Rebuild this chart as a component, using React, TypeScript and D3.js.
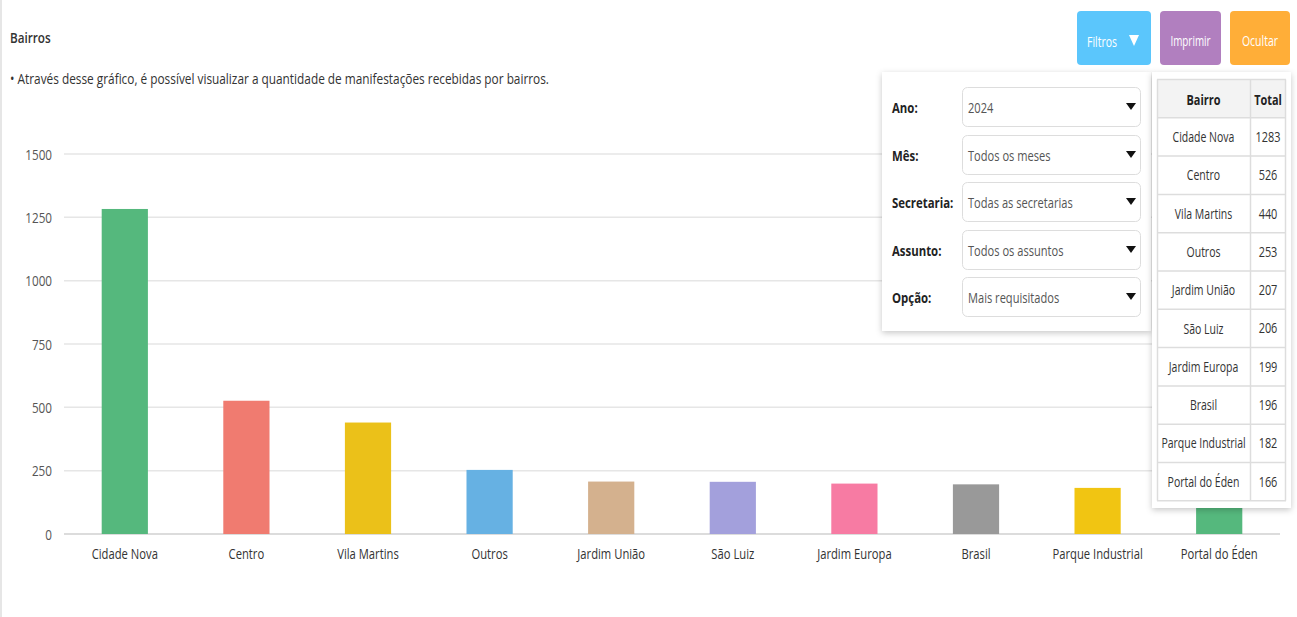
import React from "react";
import * as d3 from "d3";

const categories = ["Cidade Nova", "Centro", "Vila Martins", "Outros", "Jardim União", "São Luiz", "Jardim Europa", "Brasil", "Parque Industrial", "Portal do Éden"];
const values = [1283, 526, 440, 253, 207, 206, 199, 196, 182, 166];
const barColors = ["#55b87d", "#f07b70", "#ebc119", "#66b1e3", "#d4b18e", "#a3a0dc", "#f77ba3", "#999999", "#f1c512", "#55b87d"];
const yTicks = [0, 250, 500, 750, 1000, 1250, 1500];
const filterLabels = ["Ano:", "Mês:", "Secretaria:", "Assunto:", "Opção:"];
const filterValues = ["2024", "Todos os meses", "Todas as secretarias", "Todos os assuntos", "Mais requisitados"];
const tableHeaders = ["Bairro", "Total"];
const title = "Bairros";
const subtitle = "• Através desse gráfico, é possível visualizar a quantidade de manifestações recebidas por bairros.";

const W = 1297;
const H = 617;
const FONT = "'Open Sans', 'Noto Sans', sans-serif";

type TProps = {
  x: number;
  y: number;
  anchor?: "start" | "middle" | "end";
  size?: number;
  sx?: number;
  weight?: number | string;
  fill?: string;
  children: React.ReactNode;
};

function T({ x, y, anchor = "start", size = 15, sx = 0.75, weight = 400, fill = "#333", children }: TProps) {
  return (
    <text
      transform={`translate(${x},${y}) scale(${sx},1)`}
      textAnchor={anchor}
      dominantBaseline="central"
      fontFamily={FONT}
      fontSize={size}
      fontWeight={weight}
      fill={fill}
    >
      {children}
    </text>
  );
}

export default function App() {
  const x = d3.scaleBand<string>().domain(categories).range([64, 1280]).paddingInner(0.62).paddingOuter(0.31);
  const y = d3.scaleLinear().domain([0, 1500]).range([534, 154]);

  const selTop = [87, 135, 182, 230, 277];
  const rowH = 38.3;
  const tTop = 79.5;

  return (
    <svg width={W} height={H} style={{ position: "absolute", left: 0, top: 0, background: "#fff" }}>
      <defs>
        <filter id="sh" x="-20%" y="-20%" width="140%" height="140%">
          <feDropShadow dx="0" dy="2" stdDeviation="3" floodColor="#000" floodOpacity="0.22" />
        </filter>
      </defs>
      <rect x={0} y={0} width={W} height={H} fill="#fff" />
      <line x1={1} x2={1} y1={0} y2={H} stroke="#e6e6e6" strokeWidth={2} />

      <T x={10} y={37} size={15} sx={0.78} weight={600}>{title}</T>
      <T x={10} y={78} size={15} sx={0.79}>{subtitle}</T>

      {/* grid */}
      {yTicks.map((t) => (
        <g key={t}>
          <line x1={64} x2={1280} y1={y(t)} y2={y(t)} stroke={t === 0 ? "#dcdcdc" : "#e6e6e6"} strokeWidth={t === 0 ? 2 : 1.5} />
          <T x={52} y={y(t)} anchor="end" size={15} sx={0.78} fill="#555">{t}</T>
        </g>
      ))}

      {categories.map((c, i) => (
        <g key={c}>
          <rect x={x(c)} y={y(values[i])} width={x.bandwidth()} height={y(0) - y(values[i])} fill={barColors[i]} />
          <T x={(x(c) as number) + x.bandwidth() / 2} y={553} anchor="middle" size={15} sx={0.75} fill="#333">{c}</T>
        </g>
      ))}

      {/* buttons */}
      <rect x={1077} y={11} width={74} height={54} rx={4} fill="#5bc6fc" />
      <T x={1087} y={41} size={15} sx={0.7} fill="#fff">Filtros</T>
      <path d="M1129,35 l10,0 l-5,11 z" fill="#fff" />
      <rect x={1160} y={11} width={61} height={54} rx={4} fill="#b17fbf" />
      <T x={1190.5} y={40} anchor="middle" size={15} sx={0.66} fill="#fff">Imprimir</T>
      <rect x={1230} y={11} width={60} height={54} rx={4} fill="#ffae38" />
      <T x={1260} y={40} anchor="middle" size={15} sx={0.7} fill="#fff">Ocultar</T>

      {/* filter panel */}
      <rect x={882} y={72} width={269} height={259} fill="#fff" filter="url(#sh)" />
      {filterLabels.map((l, i) => (
        <g key={l}>
          <T x={892} y={selTop[i] + 20} size={15} sx={0.76} weight={700} fill="#222">{l}</T>
          <rect x={962.5} y={selTop[i] + 0.5} width={178} height={39} rx={5} fill="#fff" stroke="#dddddd" />
          <T x={968} y={selTop[i] + 20} size={15} sx={0.74} fill="#555">{filterValues[i]}</T>
          <path d={`M${1126},${selTop[i] + 16} l10,0 l-5,7 z`} fill="#111" />
        </g>
      ))}

      {/* table panel */}
      <rect x={1152} y={72} width={139} height={436} fill="#fff" filter="url(#sh)" />
      <rect x={1157} y={tTop} width={129} height={rowH} fill="#f3f3f3" />
      {d3.range(12).map((k) => (
        <line key={k} x1={1157} x2={1286} y1={tTop + k * rowH} y2={tTop + k * rowH} stroke="#dddddd" strokeWidth={1.5} />
      ))}
      <line x1={1157.5} x2={1157.5} y1={tTop} y2={tTop + 11 * rowH} stroke="#dddddd" strokeWidth={1.5} />
      <line x1={1250.5} x2={1250.5} y1={tTop} y2={tTop + 11 * rowH} stroke="#dddddd" strokeWidth={1.5} />
      <line x1={1285.5} x2={1285.5} y1={tTop} y2={tTop + 11 * rowH} stroke="#dddddd" strokeWidth={1.5} />
      <T x={1203.5} y={tTop + rowH / 2 + 1} anchor="middle" size={14} sx={0.78} weight={700} fill="#222">{tableHeaders[0]}</T>
      <T x={1268} y={tTop + rowH / 2 + 1} anchor="middle" size={14} sx={0.78} weight={700} fill="#222">{tableHeaders[1]}</T>
      {categories.map((c, i) => (
        <g key={c}>
          <T x={1203.5} y={tTop + (i + 1.5) * rowH} anchor="middle" size={14} sx={0.75} fill="#333">{c}</T>
          <T x={1268} y={tTop + (i + 1.5) * rowH} anchor="middle" size={14} sx={0.78} fill="#333">{values[i]}</T>
        </g>
      ))}
    </svg>
  );
}
